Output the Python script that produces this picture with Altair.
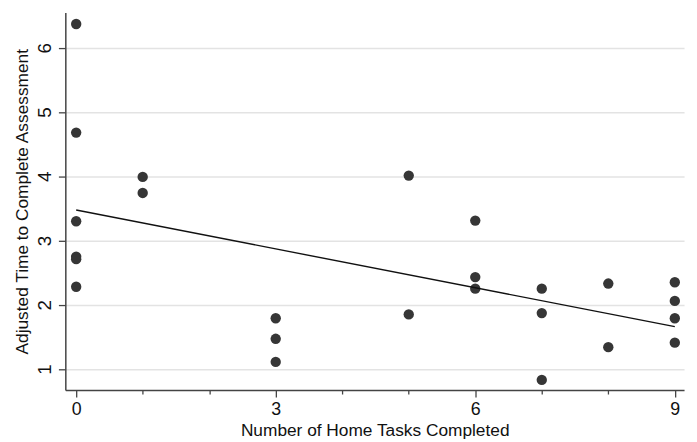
import altair as alt
import pandas as pd

# Data
tasks = [0, 0, 0, 0, 0, 0,
         1, 1,
         3, 3, 3,
         5, 5,
         6, 6, 6,
         7, 7, 7,
         8, 8,
         9, 9, 9, 9]
adj_time = [6.37, 4.68, 3.30, 2.75, 2.71, 2.28,
            3.99, 3.74,
            1.79, 1.47, 1.11,
            4.01, 1.85,
            3.31, 2.43, 2.25,
            2.25, 1.87, 0.83,
            2.33, 1.34,
            2.35, 2.06, 1.79, 1.41]
x_ticks = [0, 1, 2, 3, 4, 5, 6, 7, 8, 9]
y_ticks = [1, 2, 3, 4, 5, 6]

df = pd.DataFrame({"tasks": tasks, "time": adj_time})

FONT = "Liberation Sans"

x_enc = alt.X(
    "tasks:Q",
    scale=alt.Scale(domain=[-0.163, 9.139], nice=False, zero=False),
    axis=alt.Axis(
        title="Number of Home Tasks Completed",
        values=x_ticks,
        labelExpr="datum.value % 3 === 0 ? datum.label : ''",
        tickSize={"condition": {"test": "datum.value % 3 === 0", "value": 7}, "value": 4},
        grid=False,
        labelPadding=4,
        labelFontSize=18,
        titleY=46,
        titleBaseline="alphabetic",
    ),
)
y_enc = alt.Y(
    "time:Q",
    scale=alt.Scale(domain=[0.672, 6.549], nice=False, zero=False),
    axis=alt.Axis(
        title="Adjusted Time to Complete Assessment",
        values=y_ticks,
        tickSize=7,
        grid=True,
        labelAngle=270,
        labelAlign="center",
        labelBaseline="alphabetic",
        labelPadding=8,
        titleAngle=270,
        titleX=-38,
        titleY=191,
        titleAlign="center",
        titleBaseline="alphabetic",
    ),
)

points = alt.Chart(df).mark_circle(size=110, color="#363636", opacity=1).encode(x=x_enc, y=y_enc)

fit = (
    alt.Chart(df)
    .transform_regression("tasks", "time", method="linear")
    .mark_line(color="#111111", strokeWidth=1.4)
    .encode(x=x_enc, y=y_enc)
)

chart = (
    alt.layer(points, fit)
    .properties(
        width=626,
        height=382,
        autosize=alt.AutoSizeParams(type="none"),
        padding={"left": 58, "top": 2, "right": 5, "bottom": 50},
        background="white",
    )
    .configure_view(stroke=None)
    .configure_axis(
        labelFont=FONT,
        titleFont=FONT,
        labelFontSize=19,
        titleFontSize=17.5,
        labelColor="#111111",
        titleColor="#111111",
        titleFontWeight="normal",
        domainColor="#444444",
        domainWidth=1.5,
        tickColor="#444444",
        tickWidth=1.3,
        gridColor="#e3e3e3",
        gridWidth=1.5,
    )
)

chart.save("out.html", embed_options={"renderer": "svg", "actions": False})
